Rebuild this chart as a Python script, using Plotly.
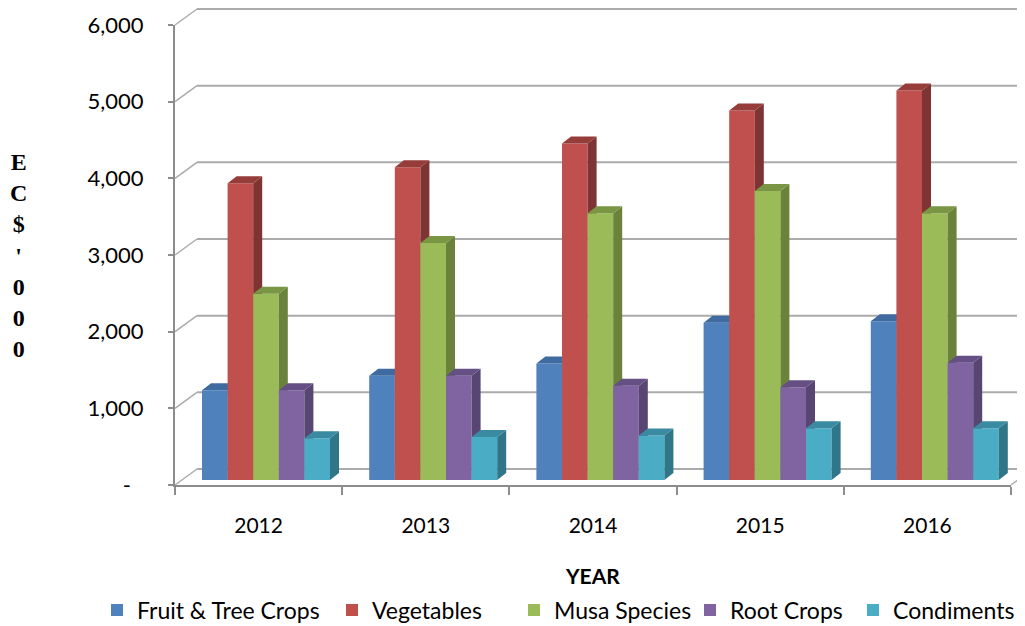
import plotly.graph_objects as go

# ---------------- data ----------------
years = ["2012", "2013", "2014", "2015", "2016"]
series_names = ["Fruit & Tree Crops", "Vegetables", "Musa Species", "Root Crops", "Condiments"]
fruit_tree = [1170, 1360, 1520, 2050, 2070]
vegetables = [3870, 4080, 4390, 4820, 5080]
musa_species = [2430, 3090, 3480, 3770, 3480]
root_crops = [1170, 1360, 1230, 1210, 1530]
condiments = [545, 560, 580, 675, 675]
y_tickvals = [0, 1000, 2000, 3000, 4000, 5000, 6000]
y_ticktext = ["-\u2007", "1,000", "2,000", "3,000", "4,000", "5,000", "6,000"]

series_values = [fruit_tree, vegetables, musa_species, root_crops, condiments]
front_colors = ["#4F81BD", "#C0504D", "#9BBB59", "#8064A2", "#4BACC6"]
side_colors = ["#385D8A", "#7E3432", "#6A833B", "#574672", "#2F7689"]
top_colors = ["#3F6BA0", "#963D3A", "#7A9645", "#654F85", "#3A8BA1"]
legend_widths = [190, 137, 131, 118, 125]

# ---------------- geometry ----------------
OFF = 8                         # page body margin in the browser
W, H = 1025 - OFF, 626 - OFF
PLOT_L, PLOT_R, PLOT_T, PLOT_B = 175, 1011, 25, 485   # page pixels
ML, MT = PLOT_L - OFF, PLOT_T - OFF
MR, MB = W - (PLOT_R - OFF), H - (PLOT_B - OFF)
plot_w = PLOT_R - PLOT_L
plot_h = PLOT_B - PLOT_T
YMAX = 6000
ppu_y = plot_h / YMAX
ppc_x = plot_w / len(years)


def px(xp):
    return (xp - PLOT_L) / plot_w


def py(yp):
    return (PLOT_B - yp) / plot_h


bar_w = 25.6 / ppc_x
first_off = -0.5 + 27 / ppc_x
depth_dx = 9 / ppc_x
depth_dy = 7 / ppu_y
bar_shift = 5 / ppu_y
wall_dx = 22 / plot_w
wall_dy = 16 / plot_h

grid_col = "#ABABAB"
axis_col = "#8C8C8C"
font_fam = "Lato, Open Sans, sans-serif"

fig = go.Figure()
xs = list(range(len(years)))

fig.add_trace(go.Scatter(x=[None], y=[None], mode="markers", showlegend=False,
                         hoverinfo="skip", xaxis="x", yaxis="y"))

for k, (name, vals) in enumerate(zip(series_names, series_values)):
    xa = f"x{k + 2}"
    ya = f"y{k + 2}"
    off = first_off + k * bar_w
    fig.add_trace(go.Bar(
        x=xs, y=vals, width=bar_w, offset=off, name=name,
        marker=dict(color=front_colors[k], line=dict(width=0)),
        xaxis=xa, yaxis=ya, hoverinfo="name+y", legendwidth=legend_widths[k],
    ))
    sx, sy, tx, ty = [], [], [], []
    for i, v in enumerate(vals):
        x0 = i + off
        x1 = x0 + bar_w
        sx += [x1, x1, x1 + depth_dx, x1 + depth_dx, x1, None]
        sy += [0, v, v + depth_dy, depth_dy, 0, None]
        tx += [x0, x1, x1 + depth_dx, x0 + depth_dx, x0, None]
        ty += [v, v, v + depth_dy, v + depth_dy, v, None]
    fig.add_trace(go.Scatter(x=sx, y=sy, mode="lines", fill="toself",
                             fillcolor=side_colors[k], line=dict(width=0),
                             xaxis=xa, yaxis=ya, showlegend=False, hoverinfo="skip"))
    fig.add_trace(go.Scatter(x=tx, y=ty, mode="lines", fill="toself",
                             fillcolor=top_colors[k], line=dict(width=0),
                             xaxis=xa, yaxis=ya, showlegend=False, hoverinfo="skip"))

shapes = []
for v in y_tickvals:
    pv = v / YMAX
    shapes.append(dict(type="line", xref="paper", yref="paper", layer="below",
                       x0=wall_dx, x1=1 + wall_dx + 0.05, y0=pv + wall_dy, y1=pv + wall_dy,
                       line=dict(color=grid_col, width=2)))
    shapes.append(dict(type="line", xref="paper", yref="paper", layer="below",
                       x0=0, x1=wall_dx, y0=pv, y1=pv + wall_dy,
                       line=dict(color=grid_col, width=1.5)))
shapes.append(dict(type="line", xref="paper", yref="paper", layer="below",
                   x0=1, x1=1 + wall_dx, y0=0, y1=wall_dy,
                   line=dict(color=grid_col, width=1.5)))

layout = dict(
    width=W, height=H,
    margin=dict(l=ML, r=MR, t=MT, b=MB, pad=0, autoexpand=False),
    paper_bgcolor="white", plot_bgcolor="rgba(0,0,0,0)",
    barmode="overlay",
    font=dict(family=font_fam, size=21, color="#000000"),
    showlegend=True,
    legend=dict(orientation="h", x=px(97), xanchor="left", y=py(610),
                yanchor="middle", font=dict(size=23, family=font_fam),
                tracegroupgap=0, traceorder="normal", borderwidth=0),
    xaxis=dict(range=[-0.5, len(years) - 0.5], tickvals=xs, ticktext=years,
               ticks="", showgrid=False, zeroline=False, showline=True,
               linecolor=axis_col, linewidth=2, ticklabelstandoff=21,
               tickfont=dict(size=21), fixedrange=True,
               minor=dict(tickvals=[i - 0.5 for i in range(len(years) + 1)],
                          ticks="outside", ticklen=8, tickcolor=axis_col, tickwidth=2,
                          showgrid=False)),
    yaxis=dict(range=[0, YMAX], tickvals=y_tickvals, ticktext=y_ticktext,
               ticks="outside", ticklen=5, tickcolor=axis_col, tickwidth=2,
               showgrid=False, zeroline=False, showline=True, linecolor=axis_col,
               linewidth=2, ticklabelstandoff=20, tickfont=dict(size=22), fixedrange=True),
    shapes=shapes,
    annotations=[
        dict(text="<b>YEAR</b>", xref="paper", yref="paper", x=px(592),
             y=py(575), xanchor="center", yanchor="middle",
             showarrow=False, font=dict(size=21, family=font_fam)),
        dict(text="<b>E<br>C<br>$<br>'<br>0<br>0<br>0</b>", xref="paper", yref="paper",
             x=px(18), y=py(255), xanchor="center", yanchor="middle",
             showarrow=False, align="center",
             font=dict(size=24, family="Liberation Serif, Times New Roman, serif")),
    ],
)
for k in range(len(series_names)):
    layout[f"xaxis{k + 2}"] = dict(range=[-0.5, len(years) - 0.5], overlaying="x",
                                   anchor=f"y{k + 2}", visible=False, fixedrange=True)
    layout[f"yaxis{k + 2}"] = dict(range=[-bar_shift, YMAX - bar_shift], overlaying="y",
                                   anchor=f"x{k + 2}", visible=False, fixedrange=True)

fig.update_layout(**layout)
fig.write_html("out.html")
